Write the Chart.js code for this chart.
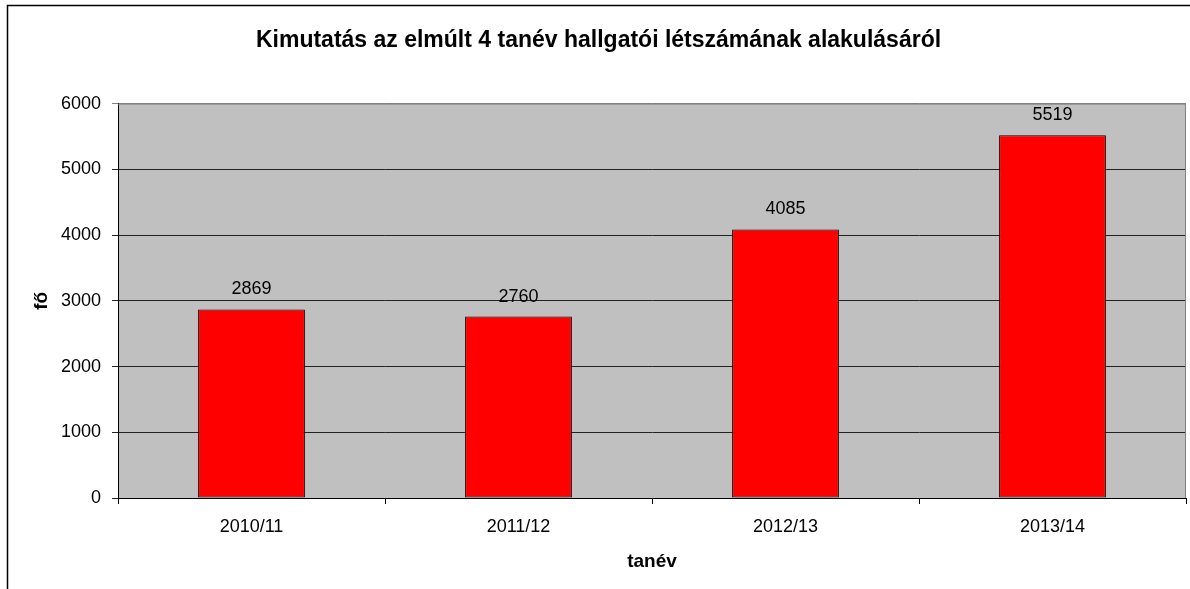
<!DOCTYPE html>
<html>
<head>
<meta charset="utf-8">
<script src="https://cdn.jsdelivr.net/npm/chart.js@4.4.1/dist/chart.umd.min.js"></script>
<style>
  body { margin: 0; background: #fff; }
  #wrap { width: 1190px; height: 589px; }
</style>
</head>
<body>
<div id="wrap"><canvas id="chart" width="1190" height="589"></canvas></div>
<script>
// Data
const categories = ['2010/11', '2011/12', '2012/13', '2013/14'];
const students = [2869, 2760, 4085, 5519];
const yTicks = [0, 1000, 2000, 3000, 4000, 5000, 6000];

const FONT = "'Liberation Sans', Arial, sans-serif";

// background, frame and value labels
const decor = {
  id: 'decor',
  beforeDraw(chart) {
    const { ctx, chartArea: a } = chart;
    ctx.save();
    ctx.fillStyle = '#fff';
    ctx.fillRect(0, 0, chart.width, chart.height);
    ctx.fillStyle = '#c0c0c0';
    ctx.fillRect(a.left, a.top, a.right - a.left, a.bottom - a.top);
    ctx.strokeStyle = '#000';
    ctx.lineWidth = 1.5;
    ctx.strokeRect(7.5, 5.5, 1300, 700);
    ctx.restore();
  },
  afterDatasetsDraw(chart) {
    const { ctx, chartArea: a } = chart;
    ctx.save();
    // plot border top/right
    ctx.strokeStyle = '#808080';
    ctx.lineWidth = 1;
    ctx.beginPath();
    ctx.moveTo(a.left, a.top + 0.5);
    ctx.lineTo(a.right - 0.5, a.top + 0.5);
    ctx.lineTo(a.right - 0.5, a.bottom);
    ctx.stroke();
    // value labels
    ctx.fillStyle = '#000';
    ctx.font = '18px ' + FONT;
    ctx.textAlign = 'center';
    ctx.textBaseline = 'middle';
    const meta = chart.getDatasetMeta(0);
    meta.data.forEach((bar, i) => {
      ctx.fillText(String(students[i]), bar.x, bar.y - 20);
    });
    ctx.restore();
  }
};

const ctx = document.getElementById('chart').getContext('2d');
const chart = new Chart(ctx, {
  type: 'bar',
  data: {
    labels: categories,
    datasets: [{
      label: 'fő',
      data: students,
      backgroundColor: '#ff0000',
      borderColor: '#000',
      borderWidth: 1,
      borderSkipped: false,
      categoryPercentage: 1,
      barPercentage: 0.4
    }]
  },
  plugins: [decor],
  options: {
    responsive: false,
    animation: false,
    layout: { padding: { left: 11, right: 4, top: 0, bottom: 0 } },
    plugins: {
      legend: { display: false },
      tooltip: { enabled: false },
      title: {
        display: true,
        text: 'Kimutatás az elmúlt 4 tanév hallgatói létszámának alakulásáról',
        color: '#000',
        font: { family: FONT, size: 23, weight: 'bold' },
        padding: { top: 27, bottom: 49 }
      }
    },
    scales: {
      x: {
        offset: true,
        grid: {
          offset: true,
          drawOnChartArea: false,
          drawTicks: true,
          tickLength: 6,
          color: '#000'
        },
        border: { color: '#000', width: 1 },
        ticks: { color: '#000', font: { family: FONT, size: 18 }, padding: 12 },
        title: {
          display: true,
          text: 'tanév',
          color: '#000',
          font: { family: FONT, size: 19, weight: 'bold' },
          padding: { top: 0, bottom: 16 }
        },
        afterFit(scale) { scale.height = 91; }
      },
      y: {
        min: 0,
        max: 6000,
        afterBuildTicks(scale) { scale.ticks = yTicks.map(v => ({ value: v })); },
        grid: {
          color: c => (c.tick && c.tick.value === 6000 ? '#808080' : '#222'),
          lineWidth: 1,
          drawTicks: true,
          tickLength: 6
        },
        border: { color: '#000', width: 1 },
        ticks: {
          color: '#000',
          font: { family: FONT, size: 18 },
          padding: 11,
          callback: v => String(v)
        },
        title: {
          display: true,
          text: 'fő',
          color: '#000',
          font: { family: FONT, size: 19, weight: 'bold' },
          padding: { top: 19, bottom: 0 }
        },
        afterFit(scale) { scale.width = 107; }
      }
    }
  }
});
</script>
</body>
</html>
